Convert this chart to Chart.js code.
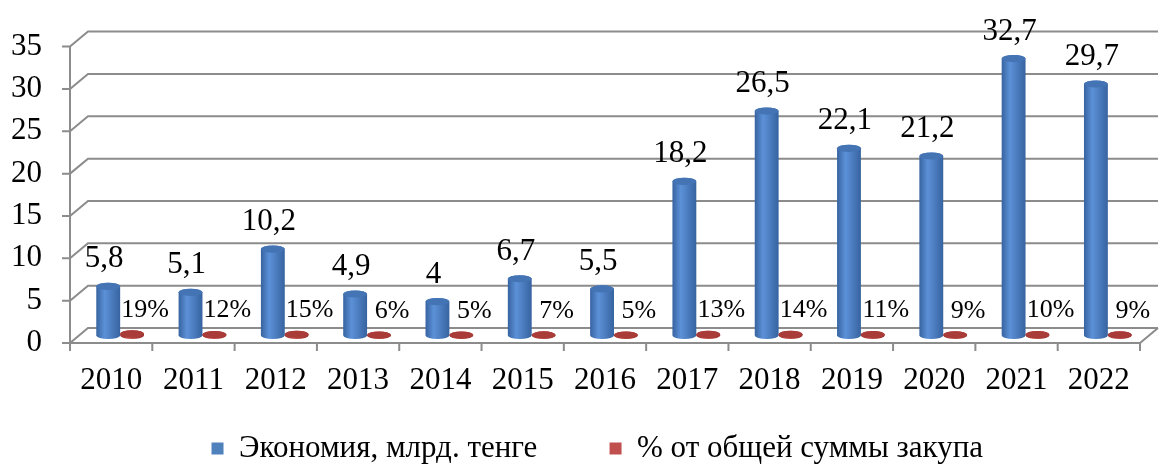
<!DOCTYPE html>
<html>
<head>
<meta charset="utf-8">
<script src="https://cdn.jsdelivr.net/npm/chart.js@4.4.0/dist/chart.umd.min.js"></script>
<style>
html, body { margin: 0; padding: 0; background: #fff; }
#wrap { width: 1163px; height: 464px; }
</style>
</head>
<body>
<div id="wrap"><canvas id="chart"></canvas></div>
<script>
const years = ["2010", "2011", "2012", "2013", "2014", "2015", "2016", "2017", "2018", "2019", "2020", "2021", "2022"];
const savings = [5.8, 5.1, 10.2, 4.9, 4, 6.7, 5.5, 18.2, 26.5, 22.1, 21.2, 32.7, 29.7];
const sharePct = [19, 12, 15, 6, 5, 7, 5, 13, 14, 11, 9, 10, 9];
const yTicks = [0, 5, 10, 15, 20, 25, 30, 35];

const serif = "'Liberation Serif', 'Times New Roman', serif";
const DX = 18, DY = 15; // depth of the fake 3d box

const blueShade = { dark: "#3763a0", light: "#5c91d8", top: "#4474b4" };
const redShade = { dark: "#9a302d", light: "#c4524f", top: "#a93b38" };

function drawCylinder(c, p, col) {
    const rx = p.width / 2, ry = rx * 0.3;
    const l = p.x - rx, r = p.x + rx;
    const g = c.createLinearGradient(l, 0, r, 0);
    g.addColorStop(0, col.dark);
    g.addColorStop(0.35, col.light);
    g.addColorStop(1, col.dark);
    c.fillStyle = g;
    c.beginPath();
    c.moveTo(l, p.y);
    c.lineTo(l, p.base);
    c.ellipse(p.x, p.base, rx, ry, 0, Math.PI, 0, true);
    c.lineTo(r, p.y);
    c.ellipse(p.x, p.y, rx, ry, 0, 0, Math.PI, true);
    c.closePath();
    c.fill();
    c.fillStyle = col.top;
    c.beginPath();
    c.ellipse(p.x, p.y, rx, ry, 0, 0, Math.PI * 2);
    c.fill();
}

const box3d = {
    id: "box3d",
    beforeDatasetsDraw(chart) {
        const c = chart.ctx, a = chart.chartArea, ys = chart.scales.y;
        c.save();
        c.strokeStyle = "#8c8c8c";
        c.lineWidth = 2;
        c.beginPath();
        yTicks.forEach(v => {
            const py = ys.getPixelForValue(v);
            c.moveTo(a.left - 8, py);
            c.lineTo(a.left, py);
            c.lineTo(a.left + DX, py - DY);
            c.lineTo(a.right + DX, py - DY);
        });
        c.moveTo(a.left, ys.getPixelForValue(35));
        c.lineTo(a.left, a.bottom);
        c.lineTo(a.right, a.bottom);
        c.lineTo(a.right + DX, a.bottom - DY);
        for (let i = 0; i <= years.length; i++) {
            const px = a.left + (a.right - a.left) * i / years.length;
            c.moveTo(px, a.bottom);
            c.lineTo(px, a.bottom + 8);
        }
        c.stroke();

        // cylinders sit half way into the box
        c.translate(DX / 2, -DY / 2);
        chart.data.datasets.forEach((ds, di) => {
            chart.getDatasetMeta(di).data.forEach(bar => {
                drawCylinder(c, bar.getProps(["x", "y", "base", "width"], true), ds.shade);
            });
        });
        c.restore();
        return false;
    },
    afterDraw(chart) {
        const c = chart.ctx;
        c.save();
        c.translate(DX / 2, -DY / 2);
        c.fillStyle = "#000";
        c.textAlign = "center";
        c.textBaseline = "alphabetic";
        c.font = "31px " + serif;
        chart.getDatasetMeta(0).data.forEach((b, i) => {
            c.fillText(String(savings[i]).replace(".", ","), b.x - 4, b.y - 19);
        });
        c.font = "26px " + serif;
        c.textBaseline = "middle";
        chart.getDatasetMeta(1).data.forEach((b, i) => {
            c.fillText(sharePct[i] + "%", b.x + 13, b.y - 24);
        });
        c.restore();
    }
};

const ctx = document.getElementById("chart").getContext("2d");

new Chart(ctx, {
    type: "bar",
    data: {
        labels: years,
        datasets: [
            { label: "Экономия, млрд. тенге", data: savings, backgroundColor: "#4f81bd", shade: blueShade },
            { label: "% от общей суммы закупа", data: sharePct.map(v => v / 100), backgroundColor: "#c0504d", shade: redShade }
        ]
    },
    options: {
        responsive: true,
        maintainAspectRatio: false,
        animation: false,
        layout: { padding: { top: 40, right: 23, left: 11, bottom: -10 } },
        datasets: { bar: { categoryPercentage: 0.58, barPercentage: 1 } },
        scales: {
            x: {
                grid: { display: false, drawTicks: false },
                border: { display: false },
                ticks: { color: "#000", font: { family: serif, size: 31 }, padding: 19, maxRotation: 0, autoSkip: false },
                afterFit(scale) { scale.height = 86; }
            },
            y: {
                min: 0,
                max: 35,
                grid: { display: false, drawTicks: false },
                border: { display: false },
                ticks: { stepSize: 5, color: "#000", font: { family: serif, size: 31 }, padding: 28, autoSkip: false },
                afterFit(scale) { scale.width = 59; }
            }
        },
        plugins: {
            legend: {
                position: "bottom",
                fullSize: false,
                labels: {
                    color: "#000",
                    font: { family: serif, size: 31 },
                    boxWidth: 12,
                    boxHeight: 12,
                    padding: 4,
                    generateLabels(chart) {
                        const items = Chart.defaults.plugins.legend.labels.generateLabels(chart);
                        items[0].text += "\u2003\u2003\u2009";
                        items[1].text += "\u2002";
                        return items;
                    }
                }
            },
            tooltip: { enabled: false }
        }
    },
    plugins: [box3d]
});
</script>
</body>
</html>
